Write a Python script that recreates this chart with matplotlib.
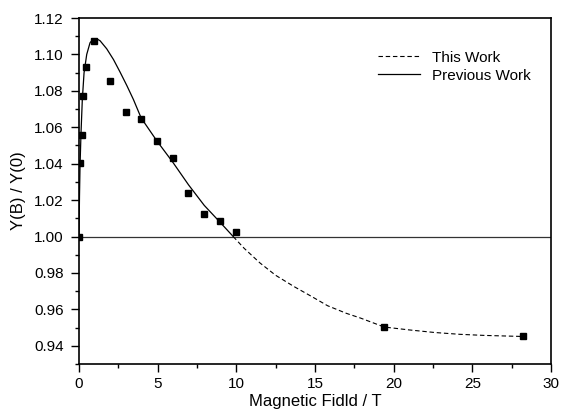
import matplotlib
matplotlib.use("Agg")
import matplotlib.pyplot as plt
from matplotlib.ticker import MultipleLocator, FormatStrFormatter

plt.rcParams["font.family"] = ["Liberation Sans", "DejaVu Sans"]

# measured points
field_pts = [0.0, 0.06, 0.17, 0.23, 0.45, 0.95, 1.97, 2.97, 3.94, 4.94,
             5.95, 6.95, 7.95, 8.96, 9.96, 19.4, 28.25]
ratio_pts = [1.000, 1.0404, 1.0555, 1.0774, 1.0933, 1.1074, 1.0855, 1.0685,
             1.0647, 1.0524, 1.0431, 1.0237, 1.0124, 1.0088, 1.0026, 0.9503, 0.9451]

# previous work curve (solid)
prev_field = [0.0, 0.03, 0.064, 0.127, 0.21, 0.32, 0.49, 0.70, 0.91, 1.13,
              1.34, 1.76, 2.19, 2.61, 3.04, 3.46, 3.95, 4.95, 5.97, 6.96,
              7.96, 8.98, 9.8]
prev_ratio = [1.000, 1.022, 1.0385, 1.0569, 1.0752, 1.0899, 1.1000, 1.1064,
              1.1086, 1.1086, 1.1075, 1.1031, 1.0972, 1.0903, 1.0829, 1.0752,
              1.0651, 1.0525, 1.0407, 1.0284, 1.0171, 1.0077, 1.0000]

# this work curve (dashed)
this_field = [9.8, 10.5, 11.5, 12.5, 13.65, 14.8, 15.8, 17.0, 17.9, 19.4,
              21.0, 22.6, 24.2, 25.75, 27.0, 28.25]
this_ratio = [1.0000, 0.9935, 0.9855, 0.9787, 0.9726, 0.9670, 0.9620, 0.9578,
              0.9552, 0.9503, 0.9487, 0.9473, 0.9463, 0.9457, 0.9454, 0.9451]

fig = plt.figure(figsize=(5.66, 4.15), dpi=100)
ax = fig.add_axes([0.1396, 0.1229, 0.8339, 0.8337])

ax.axhline(1.0, color="#333333", lw=0.9, zorder=1)
ax.plot(this_field, this_ratio, color="black", lw=0.8, ls=(0, (4, 2.5)),
        label="This Work")
ax.plot(prev_field, prev_ratio, color="black", lw=0.9, label="Previous Work")
ax.plot(field_pts, ratio_pts, "s", color="black", ms=5, zorder=3)

ax.set_xlim(0, 30)
ax.set_ylim(0.93, 1.12)
ax.xaxis.set_major_locator(MultipleLocator(5))
ax.xaxis.set_minor_locator(MultipleLocator(2.5))
ax.yaxis.set_major_locator(MultipleLocator(0.02))
ax.yaxis.set_minor_locator(MultipleLocator(0.01))
ax.yaxis.set_major_formatter(FormatStrFormatter("%.2f"))
ax.tick_params(which="major", direction="out", length=6, width=1, labelsize=11)
ax.tick_params(which="minor", direction="out", length=3, width=1)
ax.tick_params(axis="y", which="major", pad=5)
for s in ax.spines.values():
    s.set_linewidth(1.2)

ax.set_xlabel("Magnetic Fidld / T", fontsize=12, labelpad=2)
ax.set_ylabel("Y(B) / Y(0)", fontsize=12, labelpad=6)

ax.legend(loc="upper left", bbox_to_anchor=(0.605, 0.945), frameon=False,
          fontsize=11, handlelength=2.7, handletextpad=0.8, labelspacing=0.25)

fig.savefig("out.png", dpi=100)
